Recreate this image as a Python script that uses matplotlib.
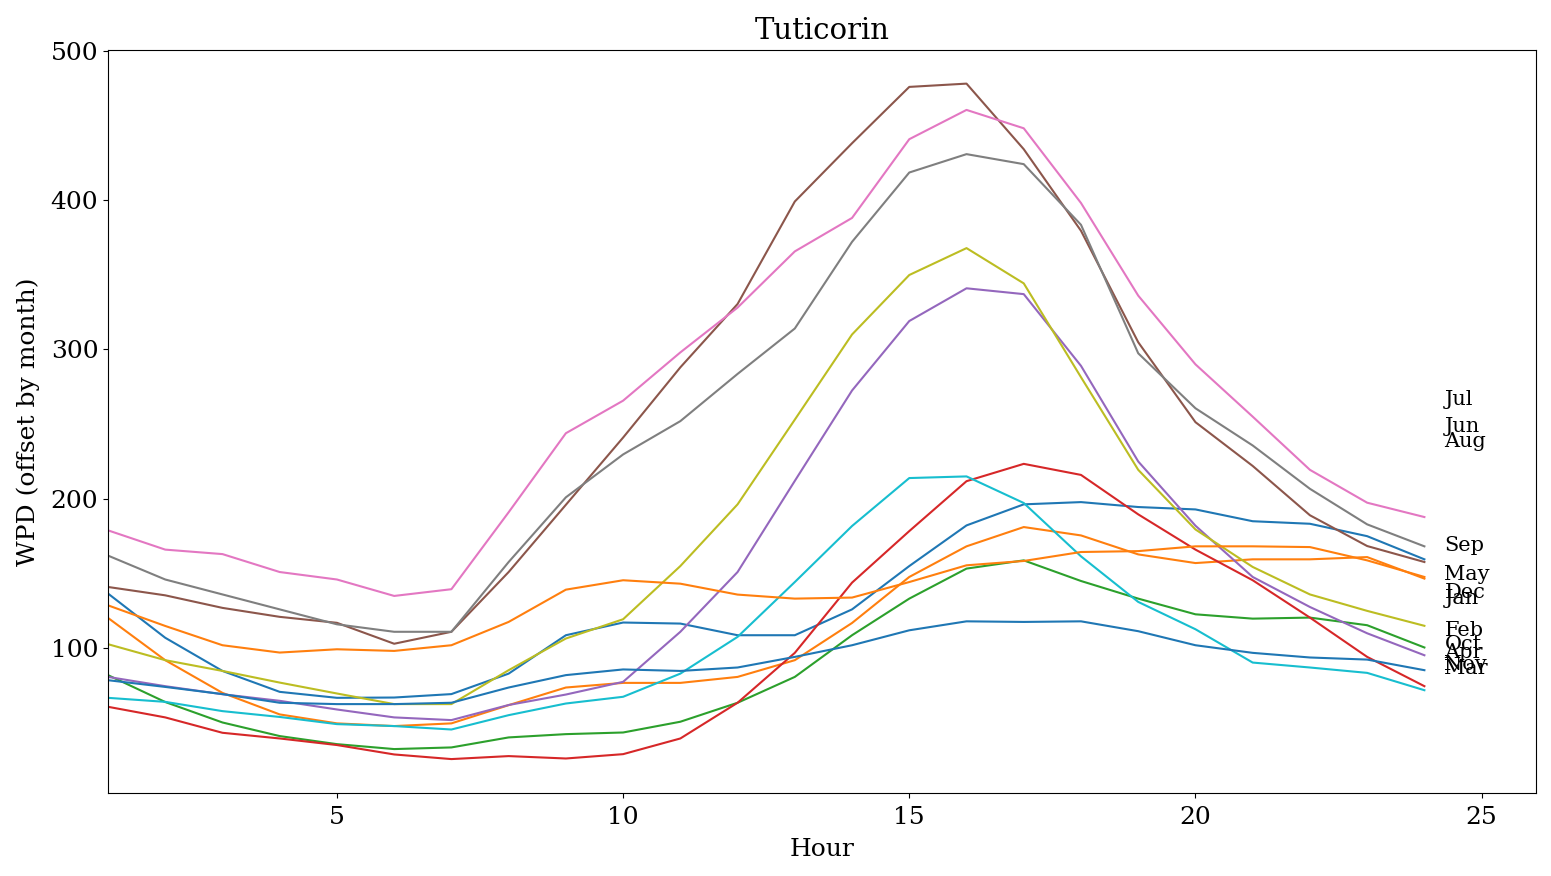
import matplotlib
matplotlib.use("Agg")
import matplotlib.pyplot as plt
import numpy as np

plt.rcParams['font.family'] = ['DejaVu Serif']

hours = list(range(1, 25))
months = ["Jan", "Feb", "Mar", "Apr", "May", "Jun",
          "Jul", "Aug", "Sep", "Oct", "Nov", "Dec"]

jan = [136.6, 107.0, 84.8, 70.8, 66.8, 67.0, 69.3, 83.0, 108.7, 117.2, 116.5, 108.7,
       108.7, 126.0, 155.0, 182.2, 196.3, 197.8, 194.5, 192.9, 185.0, 183.3, 175.0, 159.5]
feb = [120.3, 92.0, 70.1, 55.7, 49.7, 47.9, 49.7, 61.9, 73.7, 76.8, 76.8, 80.8,
       92.0, 116.9, 147.7, 168.2, 181.1, 175.5, 162.8, 157.0, 159.5, 159.5, 161.0, 146.6]
mar = [82.0, 64.0, 50.3, 41.2, 35.8, 32.5, 33.6, 40.3, 42.5, 43.6, 50.8, 63.5,
       80.8, 108.7, 133.2, 153.3, 158.8, 145.0, 133.2, 122.7, 119.8, 120.5, 115.4, 100.5]
apr = [60.8, 53.7, 43.4, 39.6, 35.2, 28.9, 25.8, 27.8, 26.2, 29.1, 39.6, 63.5,
       96.9, 143.9, 178.4, 211.8, 223.4, 216.0, 189.6, 166.0, 145.5, 120.5, 94.2, 74.6]
may = [80.8, 74.6, 69.2, 64.8, 59.0, 53.7, 51.9, 62.0, 69.0, 77.5, 111.0, 151.0,
       212.0, 272.5, 319.0, 340.9, 337.0, 289.0, 225.0, 182.0, 147.7, 127.6, 110.0, 95.3]
jun = [141.0, 135.4, 127.0, 121.0, 117.0, 103.0, 111.0, 151.0, 196.0, 241.0, 288.0, 330.4,
       399.0, 438.0, 475.7, 477.9, 434.0, 379.4, 304.8, 251.3, 222.0, 189.0, 168.4, 157.7]
jul = [178.9, 166.0, 163.0, 151.0, 146.0, 135.0, 139.5, 191.0, 243.9, 265.7, 298.0, 328.0,
       365.6, 388.0, 440.7, 460.3, 448.0, 398.0, 336.0, 290.0, 255.0, 219.4, 197.4, 187.8]
aug = [162.0, 146.0, 136.0, 126.0, 116.0, 111.0, 111.0, 157.7, 201.0, 229.7, 252.0, 283.6,
       314.0, 372.0, 418.4, 430.7, 424.0, 383.4, 297.4, 260.6, 235.7, 206.7, 182.9, 168.2]
sep = [102.7, 92.0, 84.8, 77.0, 69.7, 62.6, 62.6, 85.3, 106.5, 119.4, 155.0, 196.3,
       253.0, 310.0, 349.8, 367.8, 344.2, 281.4, 219.4, 179.5, 154.4, 136.0, 125.0, 115.0]
oct_ = [66.8, 64.1, 57.9, 54.0, 49.2, 47.9, 45.6, 55.2, 63.0, 67.5, 83.0, 107.6,
        144.3, 181.8, 213.9, 215.0, 197.2, 161.5, 131.0, 112.7, 90.4, 87.1, 83.5, 71.9]
nov = [78.6, 74.1, 69.3, 63.5, 62.6, 62.6, 63.5, 73.7, 82.0, 85.8, 84.8, 87.1,
       94.2, 102.0, 112.0, 118.0, 117.6, 118.0, 111.4, 102.0, 96.9, 93.8, 92.4, 85.3]
dec = [128.7, 114.9, 102.0, 97.1, 99.3, 98.2, 102.0, 117.6, 139.2, 145.5, 143.2, 135.9,
       133.2, 133.9, 144.3, 155.5, 158.4, 164.4, 165.0, 168.2, 168.2, 167.7, 158.8, 147.7]

series = [jan, feb, mar, apr, may, jun, jul, aug, sep, oct_, nov, dec]

fig = plt.figure(figsize=(15.51, 8.76), dpi=100)
ax = fig.add_axes([108 / 1551, 1 - 793 / 876, (1536 - 108) / 1551, (793 - 50) / 876])

for name, vals in zip(months, series):
    ax.plot(hours, vals, linewidth=1.5)
    ax.text(hours[-1] + 0.35, np.mean(vals), name, ha="left", va="center", fontsize=15)

ax.set_xlim(1, 25.95)
ax.set_ylim(3.1, 500.4)
ax.set_xticks([5, 10, 15, 20, 25])
ax.set_yticks([100, 200, 300, 400, 500])
ax.tick_params(labelsize=18)
ax.tick_params(axis="x", pad=6)
ax.set_xlabel("Hour", fontsize=18, labelpad=6)
ax.set_ylabel("WPD (offset by month)", fontsize=18, labelpad=7.5)
ax.set_title("Tuticorin", fontsize=21, pad=8)

fig.savefig("out.png", dpi=100)
